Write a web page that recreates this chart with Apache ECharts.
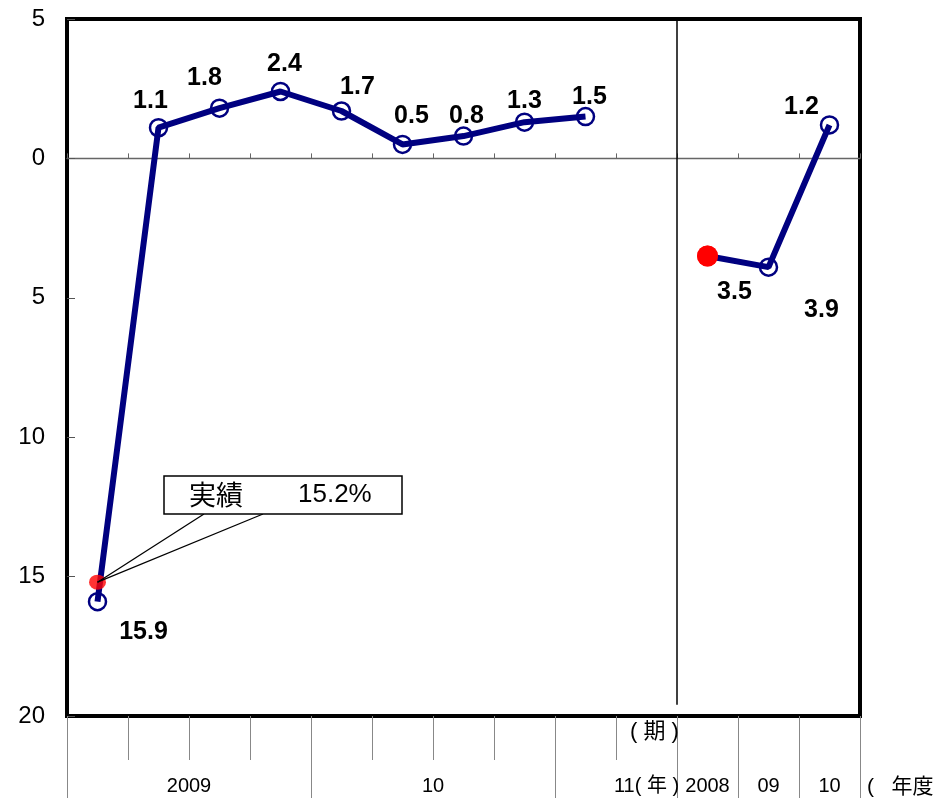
<!DOCTYPE html>
<html>
<head>
<meta charset="utf-8">
<script src="https://cdn.jsdelivr.net/npm/echarts@6/dist/echarts.min.js"></script>
<style>
html,body{margin:0;padding:0;background:#fff;}
#c{width:935px;height:798px;}
</style>
</head>
<body>
<div id="c"></div>
<script>
// ---- data ----
const categories = ['2009-1','2009-2','2009-3','2009-4','2010-1','2010-2','2010-3','2010-4','2011-1','期','FY2008','FY2009','FY2010'];
const forecastValues = [-15.9, 1.1, 1.8, 2.4, 1.7, 0.5, 0.8, 1.3, 1.5, null, -3.5, -3.9, 1.2];
const actualValues = [-15.2, null, null, null, null, null, null, null, null, null, -3.5, null, null];
const yTicks = { min: -20, max: 5, step: 5 };
const yearLabels = ['2009', '10', '11( 年 )'];
const fiscalLabels = ['2008', '09', '10'];
const periodUnit = '( 期 )';
const fiscalUnit = '(   年度';
const noteTitle = '実績';
const noteValue = '15.2%';

// ---- layout / styles ----
const yearLabelAt = [2, 6, 9.5];
const fiscalLabelAt = [10.5, 11.5, 12.5];
const groupStartIdx = [0, 4, 8, 10, 11, 12];
const dividerAt = 10;
const labelOffsets = [[46,30],[-8,-27],[-15,-30],[4,-27],[16,-24],[9,-28],[3,-20],[0,-21],[4,-19],null,[27,36],[53,43],[-28,-18]];
const FONT = '"Liberation Sans", Arial, "Noto Sans CJK JP", sans-serif';
const NAVY = '#000080';
const RED = '#ff0000';

const chart = echarts.init(document.getElementById('c'), null, { renderer: 'canvas' });

const lineData = forecastValues.map((v, i) => {
  if (v === null) return '-';
  const item = { value: v, label: { offset: labelOffsets[i] } };
  if (actualValues[i] !== null && actualValues[i] === v) {
    item.symbol = 'circle';
    item.symbolSize = 21;
    item.itemStyle = { color: RED, borderWidth: 0 };
  }
  return item;
});

function bottomLabel(v) {
  let k = yearLabelAt.indexOf(v);
  if (k >= 0) return yearLabels[k];
  k = fiscalLabelAt.indexOf(v);
  if (k >= 0) return fiscalLabels[k];
  return '';
}

const option = {
  animation: false,
  backgroundColor: '#fff',
  grid: {
    left: 67, top: 19, width: 793, height: 697,
    show: true, borderColor: '#000', borderWidth: 4,
    backgroundColor: 'transparent',
    outerBoundsMode: 'none'
  },
  xAxis: [
    {
      type: 'category', data: categories, position: 'bottom',
      axisLine: { show: true, onZero: true, lineStyle: { color: '#666', width: 1.3 } },
      axisTick: { show: true, inside: true, length: 5, interval: 0, lineStyle: { color: '#666', width: 1 } },
      axisLabel: { show: false }, splitLine: { show: false }
    },
    {
      type: 'category', data: categories, position: 'bottom',
      axisLine: { show: false, onZero: false },
      axisTick: { show: true, length: 44, interval: 0, lineStyle: { color: '#888', width: 1 } },
      axisLabel: {
        show: true, interval: 0, margin: 5,
        formatter: (v, i) => (i === 9 ? periodUnit : ''),
        fontSize: 22, color: '#000', fontFamily: FONT,
        padding: [0, 0, 0, 16]
      },
      splitLine: { show: false }
    },
    {
      type: 'category', data: categories, position: 'bottom',
      axisLine: { show: false, onZero: false },
      axisTick: { show: true, length: 82, interval: (i) => groupStartIdx.indexOf(i) >= 0, lineStyle: { color: '#888', width: 1 } },
      axisLabel: { show: false }, splitLine: { show: false }
    },
    {
      type: 'value', min: 0, max: 13, interval: 0.5, position: 'bottom',
      axisLine: { show: false, onZero: false },
      axisTick: { show: false }, splitLine: { show: false },
      axisLabel: {
        show: true, margin: 60, formatter: bottomLabel,
        fontSize: 20, color: '#000', fontFamily: FONT,
        showMinLabel: true, showMaxLabel: true
      }
    }
  ],
  yAxis: {
    type: 'value', min: yTicks.min, max: yTicks.max, interval: yTicks.step,
    axisLine: { show: false },
    axisTick: { show: true, inside: true, length: 8, lineStyle: { color: '#555', width: 1 } },
    splitLine: { show: false },
    axisLabel: {
      formatter: (v) => String(Math.abs(v)),
      fontSize: 24, color: '#000', fontFamily: FONT, margin: 22
    }
  },
  series: [
    {
      type: 'line', xAxisIndex: 0, yAxisIndex: 0, data: lineData,
      connectNulls: false, symbol: 'circle', symbolSize: 17,
      itemStyle: { color: 'rgba(0,0,0,0)', borderColor: NAVY, borderWidth: 2.5 },
      lineStyle: { color: NAVY, width: 6 },
      label: {
        show: true, position: 'inside',
        formatter: (p) => Math.abs(p.value).toFixed(1),
        fontSize: 25, fontWeight: 'bold', color: '#000', fontFamily: FONT
      },
      emphasis: { disabled: true }, silent: true, z: 3
    },
    {
      type: 'scatter', xAxisIndex: 0, yAxisIndex: 0,
      data: actualValues.map(v => (v === null ? '-' : v)),
      symbol: 'circle',
      symbolSize: (v, p) => (p.dataIndex === 0 ? [17, 15] : 21),
      itemStyle: { color: RED },
      emphasis: { disabled: true }, silent: true, z: 4
    },
    {
      type: 'line', xAxisIndex: 3, yAxisIndex: 0, data: [],
      markLine: {
        silent: true, symbol: 'none', label: { show: false },
        lineStyle: { color: '#000', width: 1.5, type: 'solid' },
        data: [[{ coord: [dividerAt, yTicks.max] }, { coord: [dividerAt, -19.6] }]]
      },
      z: 2
    }
  ]
};

chart.setOption(option);

// callout annotation, tip placed via the chart's own scales
const tip = chart.convertToPixel({ xAxisIndex: 0, yAxisIndex: 0 }, [categories[0], actualValues[0]]);
const box = { x: 164, y: 476, w: 238, h: 38 };
chart.setOption({
  graphic: [
    { type: 'line', shape: { x1: tip[0], y1: tip[1], x2: 204, y2: box.y + box.h }, style: { stroke: '#000', lineWidth: 1.3 }, z: 10 },
    { type: 'line', shape: { x1: tip[0], y1: tip[1], x2: 263, y2: box.y + box.h }, style: { stroke: '#000', lineWidth: 1.3 }, z: 10 },
    { type: 'rect', shape: { x: box.x, y: box.y, width: box.w, height: box.h }, style: { fill: '#fff', stroke: '#000', lineWidth: 1.5 }, z: 11 },
    { type: 'text', x: 189, y: box.y + box.h / 2, style: { text: noteTitle, font: '27px "Noto Sans CJK JP", sans-serif', fill: '#000', verticalAlign: 'middle' }, z: 12 },
    { type: 'text', x: 298, y: box.y + box.h / 2, style: { text: noteValue, font: '26px "Liberation Sans", Arial, sans-serif', fill: '#000', verticalAlign: 'middle' }, z: 12 },
    { type: 'text', x: 867, y: 787, style: { text: fiscalUnit, font: '21px "Liberation Sans", "Noto Sans CJK JP", sans-serif', fill: '#000', verticalAlign: 'middle' }, z: 12 }
  ]
});
</script>
</body>
</html>
